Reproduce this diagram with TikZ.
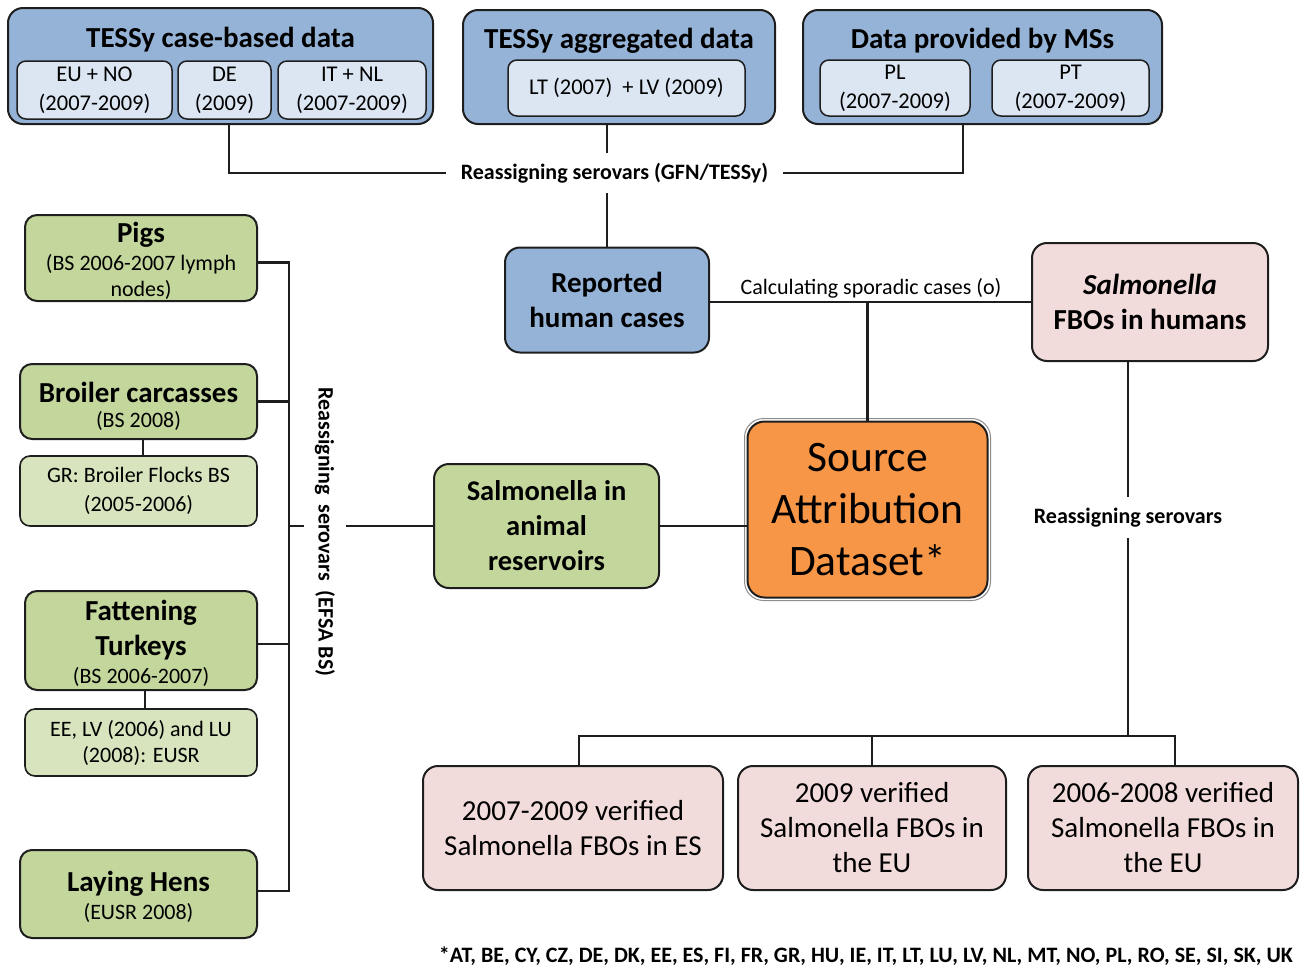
\documentclass[tikz,border=0pt]{standalone}
\usepackage{fontspec}
\setmainfont{Carlito}
\definecolor{cblue}{HTML}{95B3D7}
\definecolor{lblue}{HTML}{DCE6F2}
\definecolor{cgreen}{HTML}{C3D69B}
\definecolor{lgreen}{HTML}{D7E4BD}
\definecolor{cpink}{HTML}{F2DCDB}
\definecolor{corange}{HTML}{F79646}
\definecolor{edge}{HTML}{1E1E1E}
\tikzset{
  bx/.style={draw=edge, line width=2pt, rounded corners=15pt, inner sep=0pt, align=center},
  gbx/.style={bx, fill=cgreen, rounded corners=12pt},
  lgbx/.style={bx, fill=lgreen, rounded corners=10pt, line width=1.6pt},
  subbx/.style={draw=edge, line width=1.5pt, rounded corners=9pt, fill=lblue, inner sep=0pt, align=center, font=\fontsize{22.5}{29}\selectfont},
  ttl/.style={inner sep=0pt, align=center, yshift=-2pt, font=\bfseries\fontsize{29}{35}\selectfont},
  stl/.style={inner sep=0pt, align=center, yshift=-1pt, font=\fontsize{22}{26}\selectfont},
  ln/.style={line width=2.2pt, draw=edge},
  lbl/.style={inner sep=0pt, align=center, font=\bfseries\fontsize{22}{25}\selectfont},
}
\begin{document}
\begin{tikzpicture}[x=1pt,y=-1pt]
\useasboundingbox (0,0) rectangle (1301,967);

% ---- top data boxes ----
\node[bx, fill=cblue, minimum width=425, minimum height=116] (A) at (220.5,66) {};
\node[ttl] (At) at (220.5,38) {TESSy case-based data};
\node[subbx, minimum width=155, minimum height=58] (A1) at (94.5,90) {EU + NO\\(2007-2009)};
\node[subbx, minimum width=93, minimum height=58] (A2) at (224.5,90) {DE\\(2009)};
\node[subbx, minimum width=148, minimum height=58] (A3) at (352,90) {IT + NL\\(2007-2009)};

\node[bx, fill=cblue, minimum width=312, minimum height=114] (B) at (619,67) {};
\node[ttl] (Bt) at (619,39) {TESSy aggregated data};
\node[subbx, minimum width=237, minimum height=56] (B1) at (626.5,88) {LT (2007)~ + LV (2009)};

\node[bx, fill=cblue, minimum width=359, minimum height=114] (C) at (982.5,67) {};
\node[ttl] (Ct) at (982.5,39) {Data provided by MSs};
\node[subbx, minimum width=150, minimum height=56] (C1) at (895,88) {PL\\(2007-2009)};
\node[subbx, minimum width=157, minimum height=56] (C2) at (1070.5,88) {PT\\(2007-2009)};

\node[lbl, inner xsep=15pt, minimum height=40] (gfn) at (614.5,173) {Reassigning serovars (GFN/TESSy)};

% ---- centre ----
\node[bx, fill=cblue, minimum width=204, minimum height=105, font=\bfseries\fontsize{29}{35}\selectfont] (rep) at (607,300) {Reported\\human cases};
\node[bx, fill=cpink, minimum width=236, minimum height=118, font=\bfseries\fontsize{29}{35}\selectfont] (fbo) at (1150,302) {\textit{Salmonella}\\FBOs in humans};
\node[inner sep=0pt, font=\fontsize{22}{25}\selectfont] (calc) at (871,288) {Calculating sporadic cases (o)};

\node[draw=black!45, line width=1pt, rounded corners=19pt, minimum width=246, minimum height=182] (srcframe) at (867.5,509.5) {};
\node[bx, fill=corange, rounded corners=17pt, minimum width=240, minimum height=176, font=\fontsize{43.5}{52}\selectfont] (src) at (867.5,509.5) {Source\\Attribution\\Dataset*};

\node[bx, fill=cgreen, minimum width=225, minimum height=124, font=\bfseries\fontsize{28.5}{35}\selectfont] (anim) at (546.5,526) {Salmonella in\\animal\\reservoirs};

\node[lbl, rotate=-90, minimum height=41] (efsa) at (325,532) {Reassigning~ serovars~ (EFSA BS)};

% ---- left green boxes ----
\node[gbx, minimum width=232, minimum height=86] (pigs) at (141,258) {};
\node[ttl] (pigst) at (141,233) {Pigs};
\node[stl] (pigss) at (141,276) {(BS 2006-2007 lymph\\nodes)};

\node[gbx, minimum width=237, minimum height=75] (broil) at (138.5,401.5) {};
\node[ttl] (broilt) at (138.5,390) {Broiler carcasses};
\node[stl] (broils) at (138.5,420) {(BS 2008)};

\node[lgbx, minimum width=237, minimum height=70, font=\fontsize{22}{29}\selectfont] (gr) at (138.5,491) {GR: Broiler Flocks BS\\(2005-2006)};

\node[gbx, minimum width=232, minimum height=99] (turk) at (141,640.5) {};
\node[ttl] (turkt) at (141,628.5) {Fattening\\Turkeys};
\node[stl] (turks) at (141,676) {(BS 2006-2007)};

\node[lgbx, minimum width=232, minimum height=67, font=\fontsize{22}{26}\selectfont] (ee) at (141,742.5) {EE, LV (2006) and LU\\(2008): EUSR};

\node[gbx, minimum width=237, minimum height=88] (hens) at (138.5,894) {};
\node[ttl] (henst) at (138.5,882) {Laying Hens};
\node[stl] (henss) at (138.5,912) {(EUSR 2008)};

% ---- right / bottom ----
\node[lbl, minimum height=41] (rs2) at (1128,517.5) {Reassigning serovars};

\node[bx, fill=cpink, minimum width=300, minimum height=124, font=\fontsize{29}{35}\selectfont] (b1) at (573,828) {2007-2009 verified\\Salmonella FBOs in ES};
\node[bx, fill=cpink, minimum width=268, minimum height=124, font=\fontsize{29}{35}\selectfont] (b2) at (872,828) {2009 verified\\Salmonella FBOs in\\the EU};
\node[bx, fill=cpink, minimum width=270, minimum height=124, font=\fontsize{29}{35}\selectfont] (b3) at (1163,828) {2006-2008 verified\\Salmonella FBOs in\\the EU};

\node[inner sep=0pt, anchor=east, font=\bfseries\fontsize{22}{24}\selectfont] (foot) at (1293,956) {*AT, BE, CY, CZ, DE, DK, EE, ES, FI, FR, GR, HU, IE, IT, LT, LU, LV, NL, MT, NO, PL, RO, SE, SI, SK, UK};

% ---- connectors ----
\coordinate (aj) at ([xshift=8.5pt]A.south);
\coordinate (cj) at ([xshift=-19.5pt]C.south);
\draw[ln] (aj) |- (gfn.west);
\draw[ln] (cj) |- (gfn.east);
\draw[ln] (rep.north |- B.south) -- (rep.north |- gfn.north);
\draw[ln] (rep.north |- gfn.south) -- (rep.north);

\draw[ln] (fbo.west) -- (fbo.west -| rep.east);
\draw[ln] (src.north) -- (src.north |- fbo.west);
\draw[ln] (anim.east) -- (anim.east -| src.west);
\draw[ln] (anim.west) -- (anim.west -| efsa.north);

\coordinate (bus) at (289,0);
\coordinate (pj) at ([yshift=-4.5pt]pigs.east);
\coordinate (tj) at ([yshift=-3.5pt]turk.east);
\coordinate (hj) at ([yshift=3pt]hens.east);
\draw[ln] (pj) -| (bus |- hj) -- (hj);
\draw[ln] (broil.east) -- (bus |- broil.east);
\draw[ln] (tj) -- (bus |- tj);
\draw[ln] (bus |- anim.west) -- (anim.west -| efsa.south);

\coordinate (gj) at ([xshift=4.5pt]broil.south);
\draw[line width=1.6pt, draw=edge] (gj) -- (gj |- gr.north);
\coordinate (ej) at ([xshift=4pt]turk.south);
\draw[line width=1.6pt, draw=edge] (ej) -- (ej |- ee.north);

\coordinate (j2) at (1128,736);
\draw[ln] (rs2.north) -- (rs2.north |- fbo.south);
\draw[ln] (rs2.south) -- (j2);
\coordinate (b1t) at ([xshift=6pt]b1.north);
\coordinate (b3t) at ([xshift=12pt]b3.north);
\draw[ln] (b1t) -- (b1t |- j2) -- (b3t |- j2) -- (b3t);
\draw[ln] (b2.north) -- (b2.north |- j2);
\end{tikzpicture}
\end{document}
